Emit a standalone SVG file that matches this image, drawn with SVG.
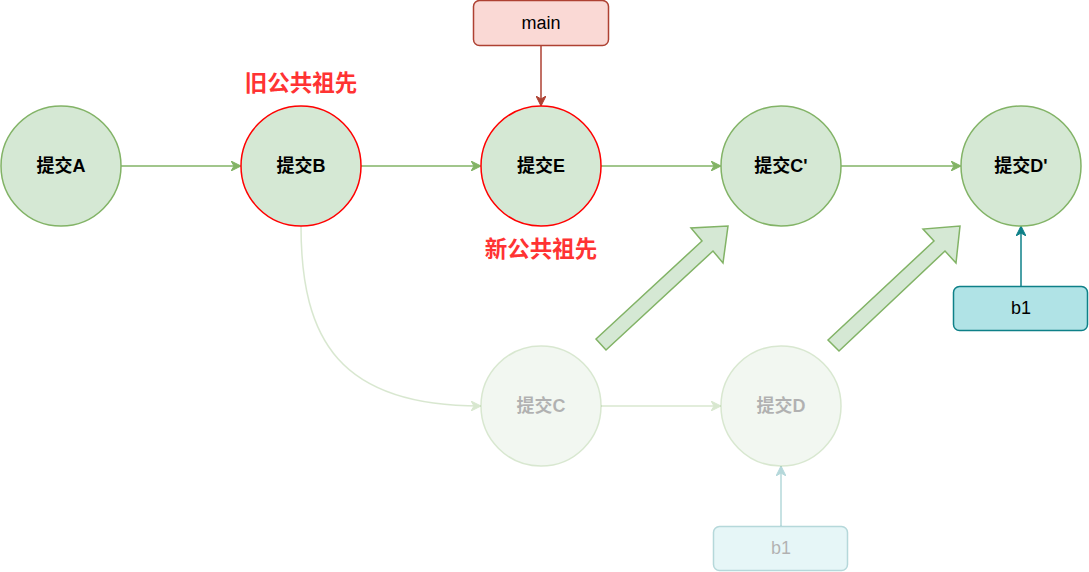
<svg xmlns="http://www.w3.org/2000/svg" width="1089" height="572" viewBox="0 0 1089 572">
<defs>
<style>
.c{fill:#d5e8d4;stroke:#82b366;stroke-width:1.5}
.cr{fill:#d5e8d4;stroke:#ff0000;stroke-width:1.5}
.t{font-family:"Liberation Sans","Noto Sans CJK SC",sans-serif;font-weight:bold;font-size:18px;fill:#000;text-anchor:middle;dominant-baseline:central}
.lbl{font-family:"Liberation Sans","Noto Sans CJK SC",sans-serif;font-weight:bold;font-size:22.5px;fill:#ff3333;text-anchor:middle;dominant-baseline:central}
.bt{font-family:"Liberation Sans","Noto Sans CJK SC",sans-serif;font-size:18px;fill:#000;text-anchor:middle;dominant-baseline:central}
.e{fill:none;stroke:#82b366;stroke-width:1.5}
.big{fill:#d5e8d4;stroke:#82b366;stroke-width:1.5;stroke-linejoin:miter}
.faded{opacity:0.3}
</style>
<marker id="ag" viewBox="0 0 10 10" refX="9" refY="5" markerWidth="10" markerHeight="10" markerUnits="userSpaceOnUse" orient="auto">
<path d="M0,0 L10,5 L0,10 L3,5 Z" fill="#82b366" stroke="#82b366"/>
</marker>
<marker id="ar" viewBox="0 0 10 10" refX="9" refY="5" markerWidth="10" markerHeight="10" markerUnits="userSpaceOnUse" orient="auto">
<path d="M0,0 L10,5 L0,10 L3,5 Z" fill="#ae4132" stroke="#ae4132"/>
</marker>
<marker id="at" viewBox="0 0 10 10" refX="9" refY="5" markerWidth="10" markerHeight="10" markerUnits="userSpaceOnUse" orient="auto">
<path d="M0,0 L10,5 L0,10 L3,5 Z" fill="#0e8088" stroke="#0e8088"/>
</marker>
</defs>
<rect width="1089" height="572" fill="#ffffff"/>

<g id="connectors">
<line class="e" x1="121" y1="166" x2="240" y2="166" marker-end="url(#ag)"/>
<line class="e" x1="361" y1="166" x2="480" y2="166" marker-end="url(#ag)"/>
<line class="e" x1="601" y1="166" x2="720" y2="166" marker-end="url(#ag)"/>
<line class="e" x1="841" y1="166" x2="960" y2="166" marker-end="url(#ag)"/>
<line x1="541" y1="45" x2="541" y2="105" stroke="#ae4132" stroke-width="1.5" marker-end="url(#ar)"/>
<line x1="1021" y1="286" x2="1021" y2="227" stroke="#0e8088" stroke-width="1.5" marker-end="url(#at)"/>
<g class="faded">
<path class="e" d="M301,226 C301,340 340,406 480,406" marker-end="url(#ag)"/>
<line class="e" x1="601" y1="406" x2="720" y2="406" marker-end="url(#ag)"/>
<line x1="781" y1="526" x2="781" y2="467" stroke="#0e8088" stroke-width="1.5" marker-end="url(#at)"/>
</g>
<polygon id="bigArrow1" class="big" points="596,339 702,241 691,228 728,226 723,263 713,251 606,350"/>
<polygon id="bigArrow2" class="big" points="828,340 934,241 923,229 960,226 956,263 945,251 839,351"/>
</g>

<g id="nodeA"><circle class="c" cx="61" cy="166" r="60"/><text class="t" x="61" y="166">提交A</text></g>
<g id="nodeB"><circle class="cr" cx="301" cy="166" r="60"/><text class="t" x="301" y="166">提交B</text></g>
<g id="nodeE"><circle class="cr" cx="541" cy="166" r="60"/><text class="t" x="541" y="166">提交E</text></g>
<g id="nodeC2"><circle class="c" cx="781" cy="166" r="60"/><text class="t" x="781" y="166">提交C'</text></g>
<g id="nodeD2"><circle class="c" cx="1021" cy="166" r="60"/><text class="t" x="1021" y="166">提交D'</text></g>

<g id="nodeC" class="faded"><circle class="c" cx="541" cy="406" r="60"/><text class="t" x="541" y="406">提交C</text></g>
<g id="nodeD" class="faded"><circle class="c" cx="781" cy="406" r="60"/><text class="t" x="781" y="406">提交D</text></g>

<g id="labelOld"><text class="lbl" x="301" y="83">旧公共祖先</text></g>
<g id="labelNew"><text class="lbl" x="541" y="249">新公共祖先</text></g>

<g id="main"><rect x="473.5" y="0.5" width="135" height="45" rx="6" fill="#fad9d5" stroke="#ae4132" stroke-width="1.5"/><text class="bt" x="541" y="23">main</text></g>
<g id="b1"><rect x="953.5" y="286.5" width="134" height="44" rx="6" fill="#b0e3e6" stroke="#0e8088" stroke-width="1.5"/><text class="bt" x="1021" y="308">b1</text></g>
<g id="b1old" class="faded"><rect x="713.5" y="526.5" width="134" height="44" rx="6" fill="#b0e3e6" stroke="#0e8088" stroke-width="1.5"/><text class="bt" x="781" y="548">b1</text></g>
</svg>
